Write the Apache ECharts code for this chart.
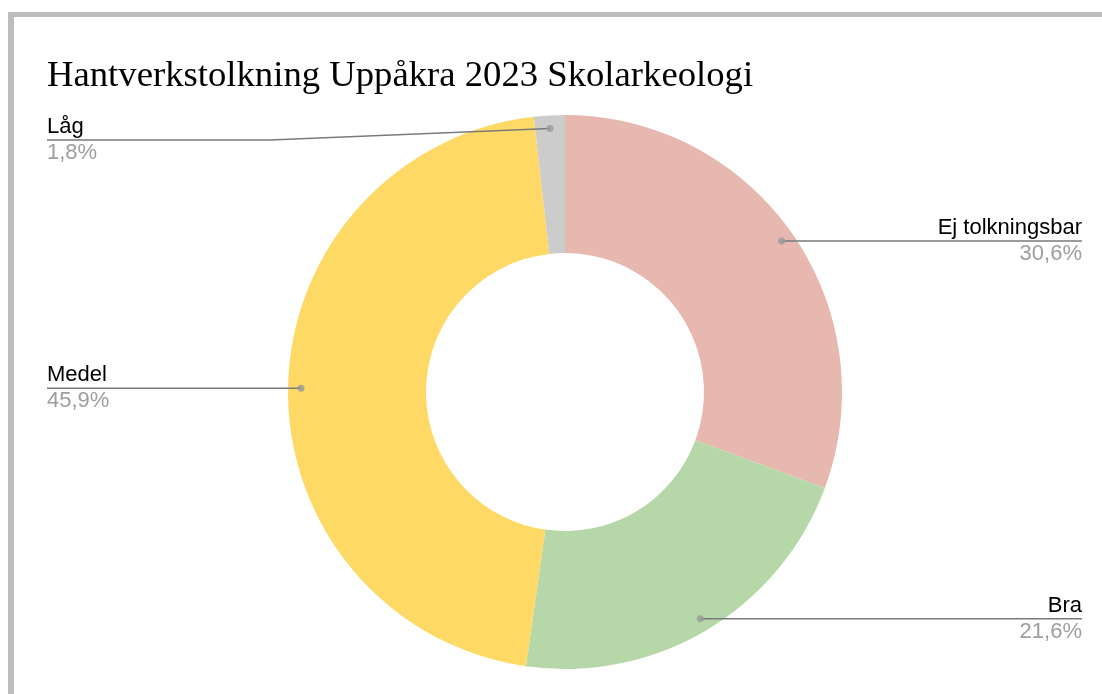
<!DOCTYPE html>
<html>
<head>
<meta charset="utf-8">
<script src="https://cdn.jsdelivr.net/npm/echarts@6/dist/echarts.min.js"></script>
<style>
  html, body { margin: 0; padding: 0; background: #fff; overflow: hidden; }
  #frame {
    position: absolute; left: 8px; top: 12px; width: 1200px; height: 800px;
    border-top: 5px solid #bdbdbd; border-left: 6px solid #bdbdbd;
  }
  #chart { position: absolute; left: 0; top: 0; width: 1102px; height: 694px; }
</style>
</head>
<body>
<div id="frame"></div>
<div id="chart"></div>
<script>
(function() {
  var titleText = 'Hantverkstolkning Uppåkra 2023 Skolarkeologi';
  var categories = ['Ej tolkningsbar', 'Bra', 'Medel', 'Låg'];
  var counts = [34, 24, 51, 2];
  var colors = ['#e6b8af', '#b6d7a8', '#ffd966', '#cccccc'];

  var total = counts.reduce(function(a, b) { return a + b; }, 0);
  var cum = [];
  counts.reduce(function(acc, v, i) { cum[i] = acc; return acc + v; }, 0);

  // pie geometry (pixels)
  var cx = 565, cy = 392, rIn = 139, rOut = 277, dotR = 264;
  var leftEdge = 47, rightEdge = 1082, labelMinY = 140;

  function fmtPct(v) {
    return (v / total * 100).toFixed(1).replace('.', ',') + '%';
  }

  var pieData = categories.map(function(c, i) {
    return { name: c, value: counts[i], itemStyle: { color: colors[i] } };
  });

  var chart = echarts.init(document.getElementById('chart'), null, { renderer: 'canvas' });
  chart.setOption({
    animation: false,
    backgroundColor: 'transparent',
    title: {
      text: titleText,
      left: 47,
      top: 58,
      padding: 0,
      textStyle: { fontFamily: 'Liberation Serif', fontSize: 36.7, fontWeight: 'normal', color: '#000' }
    },
    polar: { center: [cx, cy], radius: [0, rOut] },
    angleAxis: { type: 'value', min: 0, max: total, startAngle: 90, clockwise: true, show: false },
    radiusAxis: { type: 'value', min: 0, max: rOut, show: false },
    series: [
      {
        // slices
        type: 'pie',
        z: 2,
        left: 0, right: 0, top: 0, bottom: 0,
        center: [cx, cy],
        radius: [rIn, rOut],
        startAngle: 90,
        clockwise: true,
        silent: true,
        itemStyle: { borderWidth: 0 },
        label: { show: false },
        labelLine: { show: false },
        data: pieData
      },
      {
        // labels and leader lines, drawn above the slices
        type: 'pie',
        z: 5,
        left: 0, right: 0, top: 0, bottom: 0,
        center: [cx, cy],
        radius: [rIn, rOut],
        startAngle: 90,
        clockwise: true,
        silent: true,
        itemStyle: { color: 'rgba(0,0,0,0)', borderWidth: 0 },
        data: categories.map(function(c, i) { return { name: c, value: counts[i] }; }),
        label: {
          show: true,
          position: 'outside',
          formatter: function(p) { return '{n|' + p.name + '}\n{p|' + fmtPct(p.value) + '}'; },
          rich: {
            n: { fontFamily: 'Liberation Sans', fontSize: 22, color: '#000', lineHeight: 26 },
            p: { fontFamily: 'Liberation Sans', fontSize: 22, color: '#9e9e9e', lineHeight: 26 }
          }
        },
        labelLine: { show: true, lineStyle: { color: '#7a7a7a', width: 1.5 } },
        labelLayout: function(p) {
          var i = p.dataIndex;
          var ang = (cum[i] + counts[i] / 2) / total * 2 * Math.PI;
          var dx = cx + dotR * Math.sin(ang);
          var dy = cy - dotR * Math.cos(ang);
          var right = Math.sin(ang) > 0;
          var ly = Math.max(dy, labelMinY);
          var ex = right ? rightEdge : leftEdge;
          var kx = right ? cx + 295 : cx - 295;
          return {
            x: ex, y: ly,
            align: right ? 'right' : 'left',
            verticalAlign: 'middle',
            labelLinePoints: [[dx, dy], [kx, ly], [ex, ly]]
          };
        }
      },
      {
        type: 'scatter',
        coordinateSystem: 'polar',
        symbolSize: 7,
        z: 10,
        silent: true,
        itemStyle: { color: '#9a9a9a' },
        data: counts.map(function(v, i) { return [dotR, cum[i] + v / 2]; })
      }
    ]
  });
})();
</script>
</body>
</html>
